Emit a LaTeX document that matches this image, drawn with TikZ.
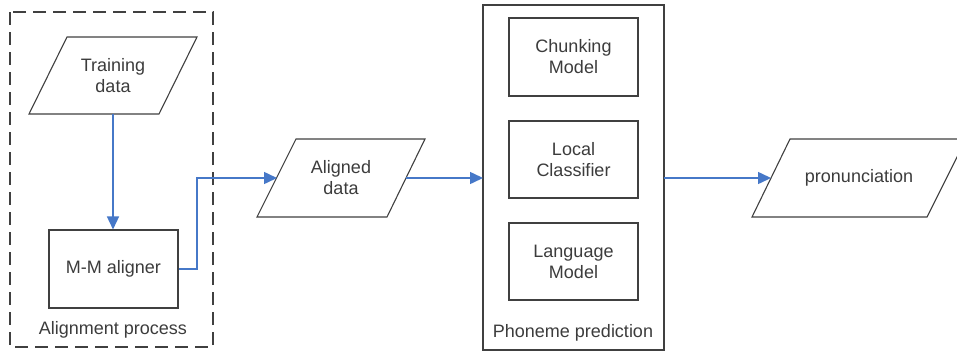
\documentclass[tikz,border=0pt]{standalone}
\usepackage{fontspec}
\setmainfont{Liberation Sans}
\usetikzlibrary{arrows.meta,calc}
\definecolor{edge}{RGB}{64,64,64}
\definecolor{txt}{RGB}{60,60,60}
\definecolor{flow}{RGB}{70,120,200}
\begin{document}
\begin{tikzpicture}[x=1pt,y=-1pt,
  font=\fontsize{18}{21}\selectfont, text=txt,
  box/.style={draw=edge,line width=1.1pt,fill=white,align=center},
  conn/.style={draw=flow,line width=1.5pt,-{Triangle[length=13pt,width=12pt]}},
  plain/.style={draw=flow,line width=1.5pt}]
\useasboundingbox (0,0) rectangle (957,351);
\begin{scope}
\clip (0,0) rectangle (957,351);
% dashed group
\draw[edge,line width=1.2pt,dash pattern=on 13pt off 7pt] (10,12) rectangle (213,347);
\node at (113,330) {Alignment process};
% phoneme group
\draw[edge,line width=1.1pt] (483,5) rectangle (664,350);
\node at (573,333) {Phoneme prediction};
% parallelograms
\draw[box] (67,37) -- (197,37) -- (159,114) -- (29,114) -- cycle;
\node[align=center] (train) at (113,75.5) {Training\\data};
\draw[box] (296,139) -- (425,139) -- (387,217) -- (257,217) -- cycle;
\node[align=center] (aligned) at (341,178) {Aligned\\data};
\draw[box] (790,139) -- (966,139) -- (927,217) -- (752,217) -- cycle;
\node (pron) at (859,178) {pronunciation};
\coordinate (trainB) at (113,114);
\coordinate (alignL) at (277,178);
\coordinate (alignR) at (406,178);
\coordinate (pronL) at (771,178);
% boxes
\node[box,minimum width=129pt,minimum height=78pt] (mm) at (113.5,269) {M-M aligner};
\node[box,minimum width=129pt,minimum height=78pt] (chunk) at (573.5,57) {Chunking\\Model};
\node[box,minimum width=129pt,minimum height=77pt] (local) at (573.5,159.5) {Local\\Classifier};
\node[box,minimum width=129pt,minimum height=77pt] (lang) at (573.5,261.5) {Language\\Model};
\coordinate (phL) at (483,178);
\coordinate (phR) at (664,178);
% connectors
\draw[conn] (trainB) -- (trainB |- mm.north);
\draw[conn] (mm.east) -- (197,269) -- (197,178) -- (alignL);
\draw[conn] (alignR) -- (phL);
\draw[conn] (phR) -- (pronL);
\end{scope}
\end{tikzpicture}
\end{document}
